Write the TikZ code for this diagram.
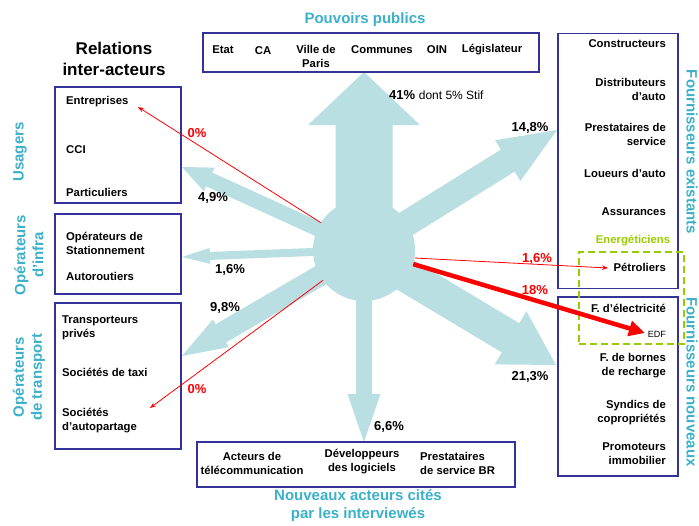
\documentclass[tikz,border=0pt]{standalone}
\usepackage{fontspec}
\setmainfont{Liberation Sans}
\usepackage[]{xcolor}
\usetikzlibrary{calc,arrows.meta}

\definecolor{bleuboite}{HTML}{333399}
\definecolor{turquoise}{HTML}{3BB0C8}
\definecolor{fluxbleu}{HTML}{B9DFE3}
\definecolor{vertenergie}{HTML}{99CC00}

% grosse fleche du centre vers une pointe : pointe, demi-corps, demi-tete, longueur tete
\newcommand{\fleche}[4]{%
  \path (centre.center) coordinate (fa) (#1) coordinate (fp);
  \path ($(fp)!#4!(fa)$) coordinate (fb);
  \fill[fluxbleu] ($(fa)!#2!90:(fp)$) -- ($(fb)!#2!90:(fp)$) -- ($(fb)!#3!90:(fp)$) -- (fp)
    -- ($(fb)!#3!-90:(fp)$) -- ($(fb)!#2!-90:(fp)$) -- ($(fa)!#2!-90:(fp)$) -- cycle;
}

\begin{document}
\begin{tikzpicture}[x=1pt, y=-1pt,
            boite/.style={draw=bleuboite, line width=1.6pt, inner sep=0pt},
            texte/.style={font=\fontsize{11.3}{14}\selectfont\bfseries, inner sep=0pt},
            titre/.style={font=\fontsize{15}{18}\selectfont\bfseries, text=turquoise, align=center, inner sep=0pt},
            pourcent/.style={font=\fontsize{13}{15}\selectfont\bfseries, inner sep=0pt},
            rouge/.style={draw=red, line width=0.8pt, -{Stealth[length=6pt, width=4.5pt]}}
        ]
            \useasboundingbox (0,0) rectangle (699,525);

            % centre et flux
            \node[circle, fill=fluxbleu, minimum size=102] (centre) at (364,250) {};

            \coordinate (tpouvoirs) at (364,72);
            \coordinate (texistants) at (557,130);
            \coordinate (tnouveaux) at (556,365);
            \coordinate (tacteurs) at (364,442);
            \coordinate (tusagers) at (182,167);
            \coordinate (tinfra) at (182,257);
            \coordinate (ttransport) at (182,356);

            \fleche{tpouvoirs}{28.5pt}{56pt}{53pt}
            \fleche{texistants}{13pt}{24pt}{58pt}
            \fleche{tnouveaux}{17pt}{31pt}{53pt}
            \fleche{tacteurs}{8pt}{16.5pt}{48pt}
            \fleche{tusagers}{7.5pt}{13pt}{30pt}
            \fleche{tinfra}{4pt}{8pt}{28pt}
            \fleche{ttransport}{10.5pt}{16pt}{45pt}

            % boites
            \node[boite, minimum width=126, minimum height=116] (usagers) at (118,145) {};
            \node[boite, minimum width=126, minimum height=80] (infra) at (118,254) {};
            \node[boite, minimum width=126, minimum height=146] (transport) at (118,376) {};
            \node[boite, minimum width=336, minimum height=39] (pouvoirs) at (371,52.5) {};
            \node[boite, minimum width=120, minimum height=255] (existants) at (618,161) {};
            \node[boite, minimum width=120, minimum height=179] (nouveaux) at (618,386.5) {};
            \node[boite, minimum width=318, minimum height=45] (nouvacteurs) at (356,464.5) {};
            \node[draw=vertenergie, line width=1.5pt, dash pattern=on 7pt off 4pt, inner sep=0pt,
                  minimum width=105, minimum height=92] (energie) at (631.5,298) {};

            % relations en rouge
            \coordinate (rentreprises) at (138,107);
            \coordinate (rautopartage) at (150,408);
            \coordinate (rpetroliers) at (608,268);
            \coordinate (redf) at (645,333);
            \draw[rouge] (centre) -- (rentreprises);
            \draw[rouge] (centre) -- (rautopartage);
            \draw[rouge] (centre.-9) -- (rpetroliers);
            \draw[red, line width=4.5pt, -{Triangle[length=16pt, width=15pt]}] (centre.-16) -- (redf);

            % titres
            \node[font=\fontsize{17}{21}\selectfont\bfseries, align=center, inner sep=0pt] (relations) at (114,58.5) {Relations\\inter-acteurs};
            \node[titre] (lpouvoirs) at (365,20) {Pouvoirs publics};
            \node[titre] (lnouvacteurs) at (358,506) {Nouveaux acteurs cités\\par les interviewés};
            \node[titre, rotate=90] (lusagers) at (20,152) {Usagers};
            \node[titre, rotate=90] (linfra) at (29,255) {Opérateurs\\d'infra};
            \node[titre, rotate=90] (ltransport) at (29,377) {Opérateurs\\de transport};
            \node[titre, rotate=-90] (lexistants) at (692,152) {Fournisseurs existants};
            \node[titre, rotate=-90] (lnouveaux) at (692,382) {Fournisseurs nouveaux};
            \node[texte, text=vertenergie] (lenergie) at (633,241) {Energéticiens};

            % pouvoirs publics
            \node[texte] (etat) at (223,50) {Etat};
            \node[texte] (ca) at (263,51) {CA};
            \node[texte, align=center] (paris) at (316,56.5) {Ville de\\Paris};
            \node[texte] (communes) at (382,50) {Communes};
            \node[texte] (oin) at (437,50) {OIN};
            \node[texte] (legis) at (492,50) {Législateur};

            % usagers et operateurs
            \node[texte, anchor=west] (entreprises) at (66,102) {Entreprises};
            \node[texte, anchor=west] (cci) at (66,150) {CCI};
            \node[texte, anchor=west] (particuliers) at (66,192) {Particuliers};
            \node[texte, anchor=west, align=left] (stationnement) at (66,243.5) {Opérateurs de\\Stationnement};
            \node[texte, anchor=west] (autoroutiers) at (66,276) {Autoroutiers};
            \node[texte, anchor=west, align=left] (transporteurs) at (62,328) {Transporteurs\\privés};
            \node[texte, anchor=west] (taxi) at (62,372) {Sociétés de taxi};
            \node[texte, anchor=west, align=left] (autopartage) at (62,421) {Sociétés\\d’autopartage};

            % fournisseurs
            \node[texte, anchor=east] (constructeurs) at (666,44) {Constructeurs};
            \node[texte, anchor=east, align=right] (distributeurs) at (666,89) {Distributeurs\\d’auto};
            \node[texte, anchor=east, align=right] (prestataires) at (666,134.5) {Prestataires de\\service};
            \node[texte, anchor=east] (loueurs) at (666,173) {Loueurs d’auto};
            \node[texte, anchor=east] (assurances) at (666,212) {Assurances};
            \node[texte, anchor=east] (petroliers) at (666,267) {Pétroliers};
            \node[texte, anchor=east] (electricite) at (666,308) {F. d’électricité};
            \node[font=\fontsize{9}{11}\selectfont, inner sep=0pt, anchor=east] (edf) at (666,334) {EDF};
            \node[texte, anchor=east, align=right] (bornes) at (666,366) {F. de bornes\\de recharge};
            \node[texte, anchor=east, align=right] (syndics) at (666,412.5) {Syndics de\\copropriétés};
            \node[texte, anchor=east, align=right] (promoteurs) at (666,454) {Promoteurs\\immobilier};

            % nouveaux acteurs
            \node[texte, align=center] (telecom) at (252,463.5) {Acteurs de\\télécommunication};
            \node[texte, align=center] (logiciels) at (362,462) {Développeurs\\des logiciels};
            \node[texte, anchor=west, align=left] (servicebr) at (420,463.5) {Prestataires\\de service BR};

            % pourcentages
            \node[pourcent, anchor=west] (p41) at (389,95) {41\% {\mdseries\fontsize{12}{14}\selectfont dont 5\% Stif}};
            \node[pourcent] (p148) at (530,128) {14,8\%};
            \node[pourcent] (p213) at (530,377) {21,3\%};
            \node[pourcent] (p66) at (389,427) {6,6\%};
            \node[pourcent] (p49) at (213,198) {4,9\%};
            \node[pourcent] (p16) at (230,270) {1,6\%};
            \node[pourcent] (p98) at (225,308) {9,8\%};
            \node[pourcent, text=red] (r0a) at (197,133) {0\%};
            \node[pourcent, text=red] (r0b) at (197,389) {0\%};
            \node[pourcent, text=red] (r16) at (537,259) {1,6\%};
            \node[pourcent, text=red] (r18) at (535,290) {18\%};
        \end{tikzpicture}
\end{document}
